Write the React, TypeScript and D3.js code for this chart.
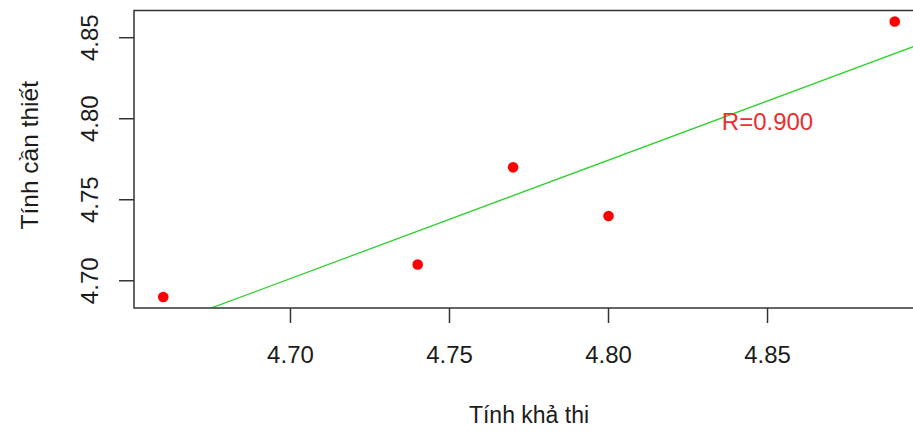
import React from "react";
import * as d3 from "d3";

const xValues = [4.66, 4.74, 4.77, 4.8, 4.89];
const yValues = [4.69, 4.71, 4.77, 4.74, 4.86];
const xTicks = [4.7, 4.75, 4.8, 4.85];
const yTicks = [4.7, 4.75, 4.8, 4.85];
const xLabel = "Tính khả thi";
const yLabel = "Tính cần thiết";
const rLabel = "R=0.900";
const rLabelPos = [4.85, 4.8];

const W = 913;
const H = 432;
const left = 134;
const right = 924;
const top = 10.5;
const bottom = 308;
const FONT = "'Liberation Sans', Arial, sans-serif";

function extend(vals: number[]): [number, number] {
  const [a, b] = d3.extent(vals) as [number, number];
  const p = (b - a) * 0.04;
  return [a - p, b + p];
}

export default function App() {
  const xDom = extend(xValues);
  const yDom = extend(yValues);
  const x = d3.scaleLinear().domain(xDom).range([left, right]);
  const y = d3.scaleLinear().domain(yDom).range([bottom, top]);

  const mx = d3.mean(xValues)!;
  const my = d3.mean(yValues)!;
  let sxy = 0;
  let sxx = 0;
  xValues.forEach((v, i) => {
    sxy += (v - mx) * (yValues[i] - my);
    sxx += (v - mx) * (v - mx);
  });
  const slope = sxy / sxx;
  const icpt = my - slope * mx;
  const lineData: [number, number][] = [xDom[0], xDom[1]].map((v) => [v, icpt + slope * v]);
  const line = d3
    .line<[number, number]>()
    .x((d) => x(d[0]))
    .y((d) => y(d[1]));

  const txt = "#1c1c1c";

  return (
    <svg
      width={W}
      height={H}
      style={{ position: "absolute", left: 0, top: 0, background: "#fff" }}
      fontFamily={FONT}
    >
      <defs>
        <clipPath id="plotclip">
          <rect x={left} y={top} width={right - left} height={bottom - top} />
        </clipPath>
      </defs>
      <rect x={0} y={0} width={W} height={H} fill="#fff" />

      <path
        d={line(lineData) || ""}
        stroke="#2fd02f"
        strokeWidth={1.3}
        fill="none"
        clipPath="url(#plotclip)"
      />

      {xValues.map((v, i) => (
        <circle key={i} cx={x(v)} cy={y(yValues[i])} r={5.3} fill="#ff0000" />
      ))}

      <text
        x={x(rLabelPos[0])}
        y={y(rLabelPos[1])}
        dy="0.48em"
        textAnchor="middle"
        fontSize={24}
        fill="#e8302f"
      >
        {rLabel}
      </text>

      <rect
        x={left}
        y={top}
        width={right - left}
        height={bottom - top}
        fill="none"
        stroke="#333"
        strokeWidth={1.5}
      />

      {xTicks.map((t) => (
        <g key={t}>
          <line x1={x(t)} x2={x(t)} y1={bottom} y2={bottom + 15} stroke="#333" strokeWidth={1.5} />
          <text x={x(t)} y={363} textAnchor="middle" fontSize={24} fill={txt}>
            {t.toFixed(2)}
          </text>
        </g>
      ))}

      {yTicks.map((t) => (
        <g key={t}>
          <line x1={left - 15} x2={left} y1={y(t)} y2={y(t)} stroke="#333" strokeWidth={1.5} />
          <text
            transform={`translate(98,${y(t)}) rotate(-90)`}
            textAnchor="middle"
            fontSize={24}
            fill={txt}
          >
            {t.toFixed(2)}
          </text>
        </g>
      ))}

      <text x={(left + right) / 2} y={423} textAnchor="middle" fontSize={23} fill={txt}>
        {xLabel}
      </text>
      <text
        transform={`translate(38,${(top + bottom) / 2 - 4}) rotate(-90)`}
        textAnchor="middle"
        fontSize={24.5}
        fill={txt}
      >
        {yLabel}
      </text>
    </svg>
  );
}
